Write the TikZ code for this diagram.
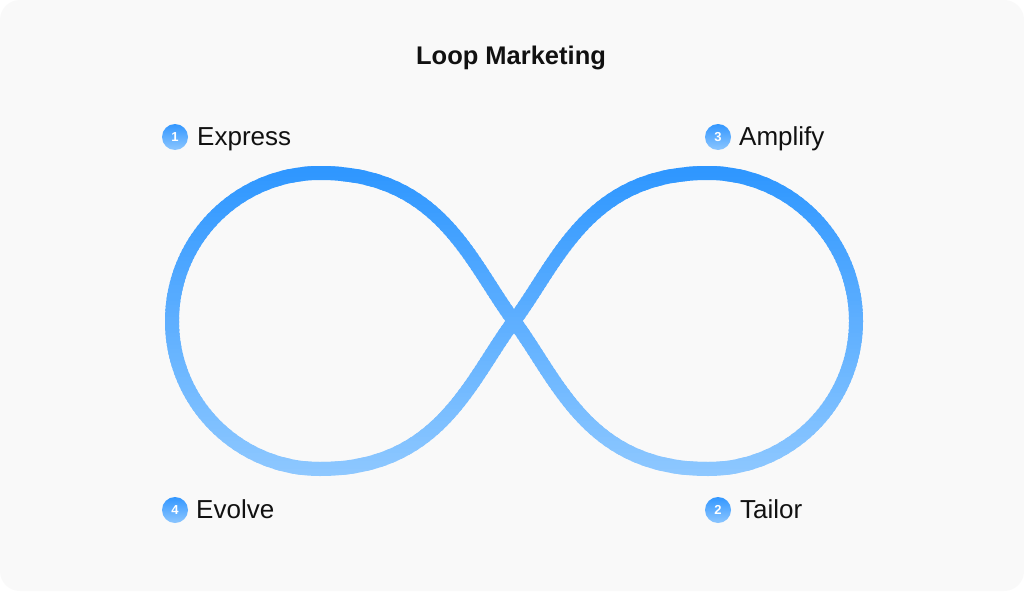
\documentclass[tikz,border=0pt]{standalone}
\usepackage{fontspec}
\setmainfont{Liberation Sans}
\definecolor{bgpanel}{HTML}{F9F9F9}
\definecolor{loopTop}{HTML}{2B95FF}
\definecolor{loopBot}{HTML}{8EC8FF}
\definecolor{badgeTop}{HTML}{3397FF}
\definecolor{badgeBot}{HTML}{8CC6FF}
\definecolor{inkc}{HTML}{111111}
\begin{document}
\begin{tikzpicture}[x=1pt,y=-1pt,
  infpath/.style={insert path={
    (320,173) .. controls (238.3,173) and (172,239.3) .. (172,321)
    .. controls (172,402.7) and (238.3,469) .. (320,469)
    .. controls (440,469) and (470,380) .. (514,321)
    .. controls (558,262) and (588,173) .. (708,173)
    .. controls (789.7,173) and (856,239.3) .. (856,321)
    .. controls (856,402.7) and (789.7,469) .. (708,469)
    .. controls (588,469) and (558,380) .. (514,321)
    .. controls (470,262) and (440,173) .. (320,173) -- cycle}},
  badge/.style={circle, minimum size=26pt, inner sep=0pt, top color=badgeTop, bottom color=badgeBot, text=white, font=\fontsize{13}{13}\selectfont\bfseries},
  lbl/.style={anchor=base west, inner sep=0pt, text=inkc, font=\fontsize{26}{26}\selectfont},
  ttl/.style={anchor=base, inner sep=0pt, text=inkc, font=\fontsize{25.5}{26}\selectfont\bfseries}]
\useasboundingbox (0,0) rectangle (1024,591);
\fill[white] (0,0) rectangle (1024,591);
\fill[bgpanel, rounded corners=20pt] (0,0) rectangle (1024,591);
% gradient loop drawn in horizontal bands
\foreach \i in {0,...,79}{
  \pgfmathsetmacro{\ya}{158+4*\i-0.6}
  \pgfmathsetmacro{\yb}{162+4*\i+0.6}
  \pgfmathtruncatemacro{\pc}{round(100*\i/79)}
  \colorlet{bandc}{loopBot!\pc!loopTop}
  \begin{scope}
    \clip (150,\ya) rectangle (880,\yb);
    \draw[bandc, line width=14pt, line join=round][infpath];
  \end{scope}
}
\node[ttl] (title) at (511,65) {Loop Marketing};
\node[badge] (b1) at (175,137) {1};
\node[lbl] (l1) at (197,145) {Express};
\node[badge] (b3) at (718,137) {3};
\node[lbl] (l3) at (739,145) {Amplify};
\node[badge] (b4) at (175,510) {4};
\node[lbl] (l4) at (196,518) {Evolve};
\node[badge] (b2) at (718,510) {2};
\node[lbl] (l2) at (740,518) {Tailor};
\end{tikzpicture}
\end{document}
